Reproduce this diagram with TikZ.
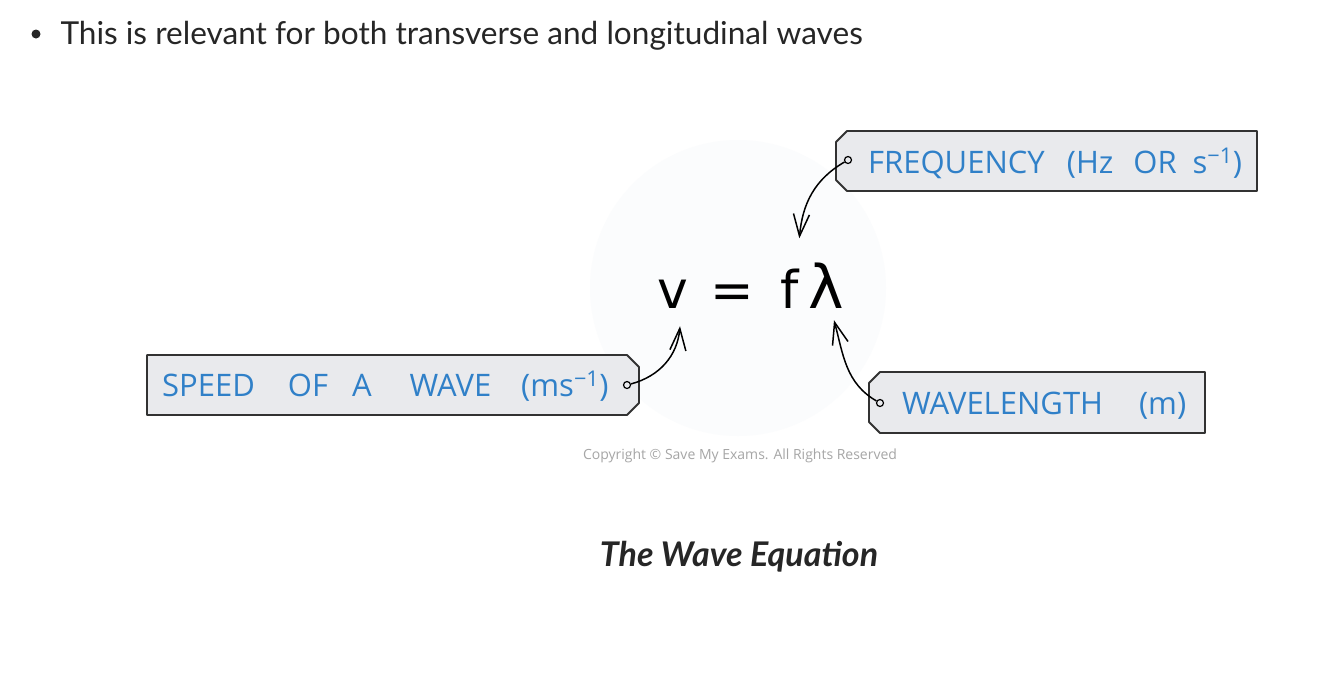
\documentclass[tikz,border=0pt]{standalone}
\usepackage{fontspec}
\setmainfont{Lato}
\newfontfamily\tagfont{Open Sans}
\newfontfamily\eqfont{DejaVu Sans}
\usetikzlibrary{arrows.meta}
\definecolor{tagfill}{RGB}{233,234,237}
\definecolor{tagline}{RGB}{50,50,50}
\definecolor{tagblue}{RGB}{48,128,200}
\definecolor{ink}{RGB}{38,38,38}
\definecolor{faint}{RGB}{251,252,253}
\begin{document}
\begin{tikzpicture}[x=1pt, y=1pt,
  tagtext/.style={text=tagblue, font=\tagfont\fontsize{31}{31}\selectfont, inner sep=0pt, anchor=base west},
  eqglyph/.style={font=\eqfont\fontsize{52}{52}\selectfont, inner xsep=0pt, anchor=base},
  pindot/.style={circle, draw, fill=tagfill, line width=1.2pt, minimum size=7pt, inner sep=0pt},
  pointer/.style={-{Straight Barb[length=22pt,width=16pt]}, line width=1.5pt}]
  \useasboundingbox[fill=white] (0,0) rectangle (1334,-675);
  \fill[faint] (738,-288) circle (148);
  % intro line
  \fill[ink] (36,-34) circle (4.5);
  \node[anchor=base west, text=ink, font=\fontsize{31.6}{32}\selectfont] (intro) at (57,-44)
    {This is relevant for both transverse and longitudinal waves};
  % tags
  \filldraw[fill=tagfill, draw=tagline, line width=1.8pt, line join=round]
    (147,-355) -- (627,-355) -- (639,-367) -- (639,-403) -- (627,-415) -- (147,-415) -- cycle;
  \filldraw[fill=tagfill, draw=tagline, line width=1.8pt, line join=round]
    (847,-131) -- (1257,-131) -- (1257,-191) -- (847,-191) -- (836,-180) -- (836,-142) -- cycle;
  \filldraw[fill=tagfill, draw=tagline, line width=1.8pt, line join=round]
    (880,-372) -- (1205,-372) -- (1205,-433) -- (880,-433) -- (869,-422) -- (869,-383) -- cycle;
  \node[tagtext] (speed) at (162,-396)
    {SPEED\hspace{33pt}OF\hspace{24pt}A\hspace{38pt}WAVE\hspace{30pt}(ms\textsuperscript{−1})};
  \node[tagtext] (freq) at (868,-173)
    {FREQUENCY\hspace{22pt}(Hz\hspace{20pt}OR\hspace{16pt}s\textsuperscript{−1})};
  \node[tagtext] (wave) at (902,-414) {WAVELENGTH\hspace{36pt}(m)};
  \node[pindot] (speedpin) at (627,-385) {};
  \node[pindot] (freqpin) at (848,-160) {};
  \node[pindot] (wavepin) at (880,-403) {};
  % equation
  \node[eqglyph, inner ysep=18pt] (v) at (673,-308) {v};
  \node[eqglyph] (eq) at (732,-308) {=};
  \node[eqglyph, inner ysep=30pt] (f) at (790,-308) {f};
  \node[eqglyph, inner ysep=12pt] (lam) at (826,-308) {\fontsize{60}{60}\selectfont λ};
  \draw[pointer] (speedpin) to[out=15, in=-95] ([xshift=7pt]v.south);
  \draw[pointer] (freqpin) to[out=210, in=85] (f.north east);
  \draw[pointer] (wavepin) to[out=150, in=-75] ([xshift=8pt]lam.south);
  \node[text=black!35, font=\tagfont\fontsize{14}{14}\selectfont] (copy) at (740,-456)
    {Copyright © Save My Exams. All Rights Reserved};
  \node[text=ink, font=\bfseries\itshape\fontsize{34}{34}\selectfont] (caption) at (739,-557)
    {The Wave Equation};
\end{tikzpicture}
\end{document}
